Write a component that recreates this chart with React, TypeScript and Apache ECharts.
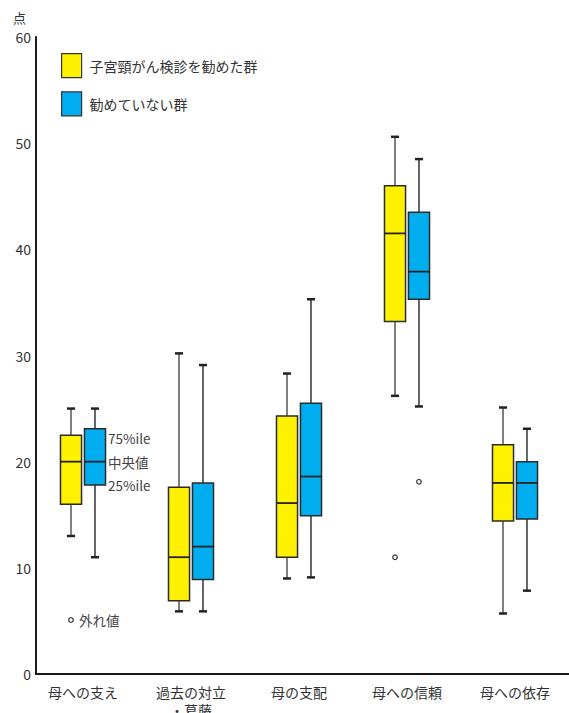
import React, { useEffect, useRef } from "react";
import * as echarts from "echarts";

const categories = ["母への支え", "過去の対立\n・葛藤", "母の支配", "母への信頼", "母への依存"];
const seriesNames = ["子宮頸がん検診を勧めた群", "勧めていない群"];
// [min, q1, median, q3, max]
const recommended = [
  [13.0, 16.0, 20.0, 22.5, 25.0],
  [5.9, 6.9, 11.0, 17.6, 30.2],
  [9.0, 11.0, 16.1, 24.3, 28.3],
  [26.2, 33.2, 41.5, 46.0, 50.6],
  [5.7, 14.4, 18.0, 21.6, 25.1],
];
const notRecommended = [
  [11.0, 17.8, 20.0, 23.1, 25.0],
  [5.9, 8.9, 12.0, 18.0, 29.1],
  [9.1, 14.9, 18.6, 25.5, 35.3],
  [25.2, 35.3, 37.9, 43.5, 48.5],
  [7.85, 14.6, 18.0, 20.0, 23.1],
];
// [category index, value]
const recommendedOutliers = [[3, 11.0]];
const notRecommendedOutliers = [[3, 18.1]];
const yTicks = { min: 0, max: 60, interval: 10 };

const YELLOW = "#FFF100";
const BLUE = "#00AEEF";
const FONT = "'Noto Sans CJK JP', 'Noto Sans', sans-serif";
const OFFSET_FRAC = 0.111;
const BOX_FRAC = 0.195;
const CAP_FRAC = 0.075;

function makeBoxRender(side: number, whiskerColor: string, whiskerWidth: number, fill: string) {
  return (params: any, api: any) => {
    const idx = api.value(0);
    const band = api.size([1, 0])[0];
    const off = side * band * OFFSET_FRAC;
    const half = (band * BOX_FRAC) / 2;
    const capHalf = (band * CAP_FRAC) / 2;
    const pMin = api.coord([idx, api.value(1)]);
    const pQ1 = api.coord([idx, api.value(2)]);
    const pMed = api.coord([idx, api.value(3)]);
    const pQ3 = api.coord([idx, api.value(4)]);
    const pMax = api.coord([idx, api.value(5)]);
    const x = pMin[0] + off;
    const capStyle = { stroke: "#222", lineWidth: 2.5 };
    return {
      type: "group",
      children: [
        { type: "line", shape: { x1: x, y1: pQ3[1], x2: x, y2: pMax[1] }, style: { stroke: whiskerColor, lineWidth: whiskerWidth } },
        { type: "line", shape: { x1: x, y1: pQ1[1], x2: x, y2: pMin[1] }, style: { stroke: whiskerColor, lineWidth: whiskerWidth } },
        { type: "line", shape: { x1: x - capHalf, y1: pMax[1], x2: x + capHalf, y2: pMax[1] }, style: capStyle },
        { type: "line", shape: { x1: x - capHalf, y1: pMin[1], x2: x + capHalf, y2: pMin[1] }, style: capStyle },
        {
          type: "rect",
          shape: { x: x - half, y: pQ3[1], width: half * 2, height: pQ1[1] - pQ3[1] },
          style: { fill, stroke: "#2a2a2a", lineWidth: 1.5 },
        },
        { type: "line", shape: { x1: x - half, y1: pMed[1], x2: x + half, y2: pMed[1] }, style: { stroke: "#222", lineWidth: 1.8 } },
      ],
    };
  };
}

function makeOutlierRender(side: number) {
  return (params: any, api: any) => {
    const idx = api.value(0);
    const band = api.size([1, 0])[0];
    const p = api.coord([idx, api.value(1)]);
    return {
      type: "circle",
      shape: { cx: p[0] + side * band * OFFSET_FRAC, cy: p[1], r: 2.3 },
      style: { fill: "#fff", stroke: "#333", lineWidth: 1.2 },
    };
  };
}

export default function App() {
  const ref = useRef<HTMLDivElement>(null);
  useEffect(() => {
    document.body.style.margin = "0";
    const chart = echarts.init(ref.current!, null, { renderer: "svg" });
    const rowsY = recommended.map((r, i) => [i, ...r]);
    const rowsB = notRecommended.map((r, i) => [i, ...r]);
    chart.setOption({
      animation: false,
      backgroundColor: "#fff",
      textStyle: { fontFamily: FONT },
      legend: {
        data: seriesNames,
        orient: "vertical",
        left: 61,
        top: 53,
        padding: 0,
        itemWidth: 20,
        itemHeight: 24,
        itemGap: 13,
        icon: "rect",
        itemStyle: { borderColor: "#333", borderWidth: 1.2 },
        textStyle: { fontSize: 14, color: "#333", fontFamily: FONT, padding: [0, 0, 0, 3] },
        selectedMode: false,
      },
      grid: [
        { left: 36, right: 0, top: 37, bottom: 39, outerBoundsMode: "none", containLabel: false },
        { left: 29, width: 540, top: 37, bottom: 39, outerBoundsMode: "none", containLabel: false },
      ],
      xAxis: [
        {
          gridIndex: 0,
          type: "value",
          min: 0,
          max: 1,
          axisLine: { show: true, lineStyle: { color: "#1a1a1a", width: 2 } },
          axisTick: { show: false },
          axisLabel: { show: false },
          splitLine: { show: false },
        },
        {
          gridIndex: 1,
          type: "category",
          data: categories,
          axisLine: { show: false },
          axisTick: { show: false },
          axisLabel: { fontSize: 14, color: "#333", margin: 9, lineHeight: 18, fontFamily: FONT },
          splitLine: { show: false },
        },
      ],
      yAxis: [
        {
          gridIndex: 0,
          type: "value",
          min: yTicks.min,
          max: yTicks.max,
          interval: yTicks.interval,
          name: "点",
          nameLocation: "end",
          nameGap: 20,
          nameTextStyle: { fontSize: 13, color: "#333", align: "right", verticalAlign: "middle", padding: [0, 10, 0, 0], fontFamily: FONT },
          axisLine: { show: true, lineStyle: { color: "#1a1a1a", width: 2 } },
          axisTick: { show: false },
          axisLabel: { fontSize: 14, color: "#333", margin: 5, fontFamily: FONT },
          splitLine: { show: false },
        },
        {
          gridIndex: 1,
          type: "value",
          min: yTicks.min,
          max: yTicks.max,
          show: false,
          splitLine: { show: false },
        },
      ],
      series: [
        {
          name: seriesNames[0],
          type: "custom",
          xAxisIndex: 1,
          yAxisIndex: 1,
          itemStyle: { color: YELLOW, borderColor: "#333", borderWidth: 1.2 },
          encode: { x: 0, y: [1, 2, 3, 4, 5] },
          data: rowsY,
          renderItem: makeBoxRender(-1, "#808080", 2, YELLOW),
        },
        {
          name: seriesNames[1],
          type: "custom",
          xAxisIndex: 1,
          yAxisIndex: 1,
          itemStyle: { color: BLUE, borderColor: "#333", borderWidth: 1.2 },
          encode: { x: 0, y: [1, 2, 3, 4, 5] },
          data: rowsB,
          renderItem: makeBoxRender(1, "#333", 1.5, BLUE),
        },
        {
          name: "outlierY",
          type: "custom",
          xAxisIndex: 1,
          yAxisIndex: 1,
          encode: { x: 0, y: 1 },
          data: recommendedOutliers,
          renderItem: makeOutlierRender(-1),
        },
        {
          name: "outlierB",
          type: "custom",
          xAxisIndex: 1,
          yAxisIndex: 1,
          encode: { x: 0, y: 1 },
          data: notRecommendedOutliers,
          renderItem: makeOutlierRender(1),
        },
      ],
      graphic: [
        { type: "text", x: 108, y: 438, style: { text: "75%ile", fontSize: 13.5, fontFamily: FONT, fill: "#444", align: "left", verticalAlign: "middle" } },
        { type: "text", x: 108, y: 462, style: { text: "中央値", fontSize: 13.5, fontFamily: FONT, fill: "#444", align: "left", verticalAlign: "middle" } },
        { type: "text", x: 108, y: 485, style: { text: "25%ile", fontSize: 13.5, fontFamily: FONT, fill: "#444", align: "left", verticalAlign: "middle" } },
        { type: "circle", shape: { cx: 71, cy: 620, r: 2.3 }, style: { fill: "#fff", stroke: "#333", lineWidth: 1.2 } },
        { type: "text", x: 79, y: 620, style: { text: "外れ値", fontSize: 13.5, fontFamily: FONT, fill: "#444", align: "left", verticalAlign: "middle" } },
      ],
    });
    return () => chart.dispose();
  }, []);
  return <div ref={ref} style={{ width: 569, height: 713 }} />;
}
